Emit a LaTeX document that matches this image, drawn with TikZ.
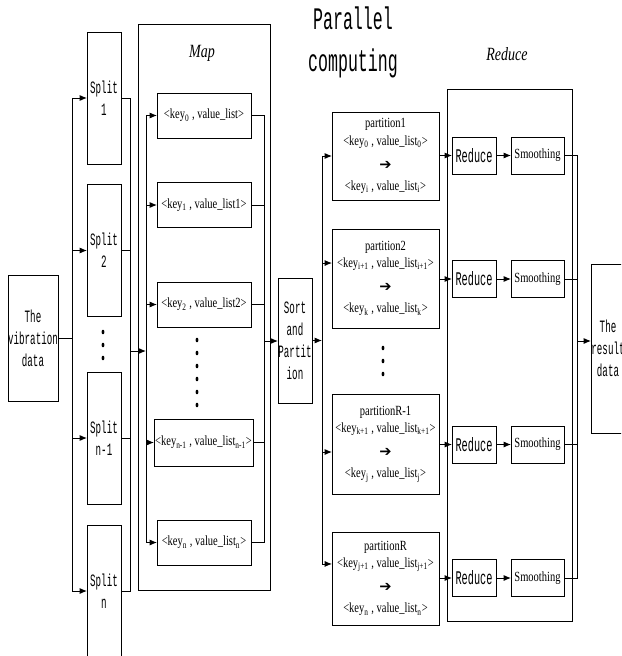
\documentclass[tikz,border=0pt]{standalone}
\usepackage{fontspec}
\setmainfont[FakeStretch=0.75]{Liberation Serif}
\newfontfamily\narrowmono[FakeStretch=0.53]{Liberation Mono}
\newfontfamily\arrowglyph{DejaVu Sans}
\usepackage{tikz}
\usetikzlibrary{arrows.meta, positioning, calc}
\newcommand{\pairtext}[3]{<key\textsubscript{#1} , value\_list#2\textsubscript{#3}>}
\newcommand{\thickarrow}{{\arrowglyph\fontsize{11}{11}\selectfont ➔}}

\begin{document}
\begin{tikzpicture}[
  x=0.75pt, y=-0.75pt,
  line width=0.7pt,
  every node/.style={inner sep=0pt, outer sep=0pt, align=center},
  arr/.style={-{Latex[length=5.5pt, width=4.5pt]}},
  box/.style={draw, line width=0.7pt},
  monobox/.style={box, font=\narrowmono\fontsize{13}{16.5}\selectfont},
  splitbox/.style={monobox, minimum width=25.5pt, minimum height=99pt},
  pairbox/.style={box, minimum width=70.5pt, minimum height=33.75pt, font=\fontsize{10.5}{13}\selectfont},
  partbox/.style={box, minimum width=80.25pt, font=\fontsize{10.5}{13}\selectfont},
  reducebox/.style={box, minimum width=33pt, minimum height=27.75pt, font=\narrowmono\fontsize{14.5}{16}\selectfont},
  smoothbox/.style={box, minimum width=39.75pt, minimum height=27.75pt, font=\fontsize{10.5}{13}\selectfont},
  stagebox/.style={box, minimum width=93.75pt},
  stagetitle/.style={font=\itshape\fontsize{14}{16}\selectfont},
  dot/.style={fill=black}
]
  \useasboundingbox (0,0) rectangle (621,656);
  \clip (0,0) rectangle (621,656);

  \node[font=\narrowmono\fontsize{23.5}{31.5}\selectfont] (title) at (353,42) {Parallel\\computing};

  % input and splits
  \node[monobox, minimum width=37.5pt, minimum height=94.5pt] (vib) at (33,338) {The\\vibration\\data};
  \node[splitbox] (split1) at (104,98) {Split\\1};
  \node[splitbox] (split2) at (104,250.5) {Split\\2};
  \node[splitbox] (split3) at (104,438) {Split\\n-1};
  \node[splitbox] (split4) at (104,591) {Split\\n};
  \fill[dot] (103,332) ellipse (1.4 and 2.3);
  \fill[dot] (103,345) ellipse (1.4 and 2.3);
  \fill[dot] (103,358) ellipse (1.4 and 2.3);

  % map stage
  \node[box, minimum width=99pt, minimum height=424.5pt] (mapbox) at (204,307) {};
  \node[stagetitle] (maptitle) at (202,53) {Map};
  \node[pairbox] (key0) at (204,115.5) {<key\textsubscript{0} , value\_list>};
  \node[pairbox] (key1) at (204,205) {<key\textsubscript{1} , value\_list1>};
  \node[pairbox] (key2) at (204,304.5) {<key\textsubscript{2} , value\_list2>};
  \node[pairbox, minimum width=74.25pt, minimum height=35.25pt] (key3) at (203.5,442.5) {\pairtext{n-1}{}{n-1}};
  \node[pairbox] (key4) at (204,542.5) {\pairtext{n}{}{n}};
  \foreach \y in {340,353,366,379,392,405}
    \fill[dot] (197,\y) ellipse (1.4 and 2.3);

  \node[monobox, minimum width=25.5pt, minimum height=93.75pt] (sort) at (295,340.5) {Sort\\and\\Partit\\ion};

  % partitions
  \node[partbox, minimum height=66pt] (part1) at (385.5,156)
    {partition1\\[0pt] \pairtext{0}{}{0}\\[5pt] \thickarrow\\[3pt] \pairtext{i}{}{i}};
  \node[partbox, minimum height=74.25pt] (part2) at (385.5,278.5)
    {partition2\\[0pt] \pairtext{i+1}{}{i+1}\\[5pt] \thickarrow\\[3pt] \pairtext{k}{}{k}};
  \node[partbox, minimum height=75pt] (part3) at (385.5,444)
    {partitionR-1\\[0pt] \pairtext{k+1}{}{k+1}\\[5pt] \thickarrow\\[3pt] \pairtext{j}{}{j}};
  \node[partbox, minimum height=69.75pt] (part4) at (385.5,578.5)
    {partitionR\\[0pt] \pairtext{j+1}{}{j+1}\\[5pt] \thickarrow\\[3pt] \pairtext{n}{}{n}};
  \fill[dot] (383,348) ellipse (1.4 and 2.3);
  \fill[dot] (383,361) ellipse (1.4 and 2.3);
  \fill[dot] (383,374) ellipse (1.4 and 2.3);

  % reduce stage
  \node[stagebox, minimum height=399pt] (reducebox) at (509.5,355) {};
  \node[stagetitle] (reducetitle) at (507,54) {Reduce};
  \node[reducebox] (red1) at (474,155.5) {Reduce};
  \node[reducebox] (red2) at (474,279) {Reduce};
  \node[reducebox] (red3) at (474,444.5) {Reduce};
  \node[reducebox] (red4) at (474,578) {Reduce};
  \node[smoothbox] (smooth1) at (537.5,155.5) {Smoothing};
  \node[smoothbox] (smooth2) at (537.5,279) {Smoothing};
  \node[smoothbox] (smooth3) at (537.5,444.5) {Smoothing};
  \node[smoothbox] (smooth4) at (537.5,578) {Smoothing};

  \node[monobox, minimum width=25.5pt, minimum height=126.75pt] (result) at (608,348.5) {The\\result\\data};

  % buses
  \coordinate (lbus) at (72,338);
  \coordinate (sbus) at (130,351);
  \coordinate (kbus) at (146,351);
  \coordinate (obus) at (264,341);
  \coordinate (pbus) at (322,340);
  \coordinate (rbus) at (577,341);
  \coordinate (p2in) at ([yshift=11.6pt]part2.west);
  \coordinate (p3in) at ([yshift=-6pt]part3.west);
  \coordinate (p4in) at ([yshift=10.9pt]part4.west);

  \draw (vib.east) -- (lbus);
  \draw (lbus |- split1.west) -- (lbus |- split4.west);
  \draw[arr] (lbus |- split1.west) -- (split1.west);
  \draw[arr] (lbus |- split2.west) -- (split2.west);
  \draw[arr] (lbus |- split3.west) -- (split3.west);
  \draw[arr] (lbus |- split4.west) -- (split4.west);

  \draw (split1.east) -- (sbus |- split1.east) -- (sbus |- split4.east) -- (split4.east);
  \draw (split2.east) -- (sbus |- split2.east);
  \draw (split3.east) -- (sbus |- split3.east);
  \draw[arr] (sbus) -- (kbus);

  \draw (kbus |- key0.west) -- (kbus |- key4.west);
  \draw[arr] (kbus |- key0.west) -- (key0.west);
  \draw[arr] (kbus |- key1.west) -- (key1.west);
  \draw[arr] (kbus |- key2.west) -- (key2.west);
  \draw[arr] (kbus |- key3.west) -- (key3.west);
  \draw[arr] (kbus |- key4.west) -- (key4.west);

  \draw (key0.east) -- (obus |- key0.east) -- (obus |- key4.east) -- (key4.east);
  \draw (key1.east) -- (obus |- key1.east);
  \draw (key2.east) -- (obus |- key2.east);
  \draw (key3.east) -- (obus |- key3.east);
  \draw[arr] (obus) -- (obus -| sort.west);

  \draw[arr] (sort.east) -- (sort.east -| pbus);
  \draw (pbus |- part1.west) -- (pbus |- p4in);
  \draw[arr] (pbus |- part1.west) -- (part1.west);
  \draw[arr] (pbus |- p2in) -- (p2in);
  \draw[arr] (pbus |- p3in) -- (p3in);
  \draw[arr] (pbus |- p4in) -- (p4in);

  \draw[arr] (red1.west -| part1.east) -- (red1.west);
  \draw[arr] (red2.west -| part2.east) -- (red2.west);
  \draw[arr] (red3.west -| part3.east) -- (red3.west);
  \draw[arr] (red4.west -| part4.east) -- (red4.west);
  \draw[arr] (red1) -- (smooth1);
  \draw[arr] (red2) -- (smooth2);
  \draw[arr] (red3) -- (smooth3);
  \draw[arr] (red4) -- (smooth4);

  \draw (smooth1.east) -- (rbus |- smooth1.east) -- (rbus |- smooth4.east) -- (smooth4.east);
  \draw (smooth2.east) -- (rbus |- smooth2.east);
  \draw (smooth3.east) -- (rbus |- smooth3.east);
  \draw[arr] (rbus) -- (rbus -| result.west);
\end{tikzpicture}
\end{document}
